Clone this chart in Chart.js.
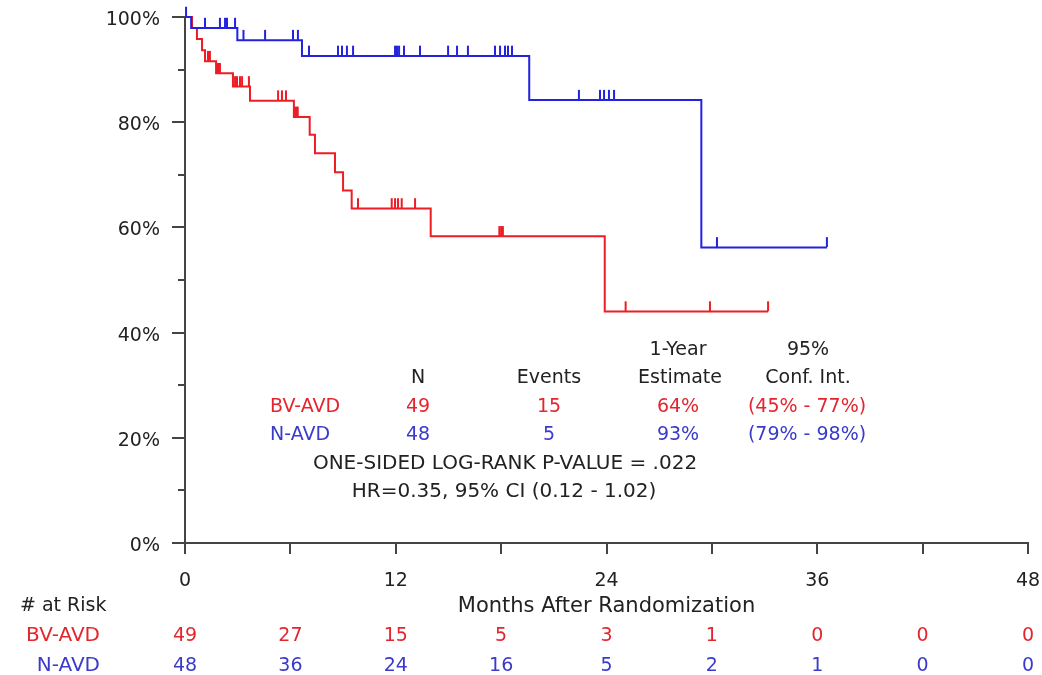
<!DOCTYPE html>
<html>
<head>
<meta charset="utf-8">
<script src="https://cdn.jsdelivr.net/npm/chart.js@4.4.1/dist/chart.umd.min.js"></script>
<style>
  html, body { margin: 0; padding: 0; background: #fff; }
  #wrap { width: 1042px; height: 675px; position: relative; }
</style>
</head>
<body>
<div id="wrap"><canvas id="km"></canvas></div>
<script>
// Kaplan-Meier steps (months, % surviving after the step)
var bvTimes = [0, 0.40, 0.68, 0.97, 1.14, 1.77, 2.73, 3.70, 6.20, 7.10, 7.40, 8.54, 9.00, 9.49, 13.99, 23.90, 33.20];
var bvSurv  = [100, 97.9, 95.8, 93.7, 91.6, 89.3, 86.8, 84.1, 81.0, 77.6, 74.1, 70.5, 67.0, 63.6, 58.3, 44.0, 44.0];
var bvCensor = [1.31, 1.42, 1.88, 1.99, 2.85, 2.96, 3.13, 3.25, 3.64, 5.30, 5.52, 5.75, 6.28, 6.36, 6.42,
                9.85, 11.77, 11.96, 12.13, 12.34, 13.10, 17.90, 18.00, 18.10, 25.09, 29.89, 33.20];

var nTimes = [0, 0.35, 2.98, 6.66, 19.60, 29.40, 36.55];
var nSurv  = [100, 97.9, 95.6, 92.6, 84.2, 56.2, 56.2];
var nCensor = [0.06, 1.14, 1.99, 2.28, 2.39, 2.85, 3.33, 4.56, 6.15, 6.43,
               7.06, 8.71, 8.94, 9.22, 9.57, 11.96, 12.07, 12.19, 12.47, 13.38, 14.98, 15.49, 16.11,
               17.65, 17.94, 18.22, 18.39, 18.62, 22.43, 23.63, 23.86, 24.14, 24.43, 30.29, 36.55];

// number at risk
var riskMonths = [0, 6, 12, 18, 24, 30, 36, 42, 48];
var bvRisk = [49, 27, 15, 5, 3, 1, 0, 0, 0];
var nRisk  = [48, 36, 24, 16, 5, 2, 1, 0, 0];

var yLabels = [0, 20, 40, 60, 80, 100];
var xLabels = [0, 12, 24, 36, 48];

var RED = '#ee1c24', BLUE = '#2222e0';
var RED_TXT = '#e3262e', BLUE_TXT = '#3a3acb';
var FONT = '"DejaVu Sans", Verdana, sans-serif';

function levelAt(times, surv, t) {
  var v = surv[0];
  for (var i = 0; i < times.length; i++) { if (times[i] <= t) v = surv[i]; }
  return v;
}
function steps(times, surv) {
  return times.map(function (t, i) { return {x: t, y: surv[i]}; });
}
function marks(times, surv, cens) {
  return cens.map(function (t) { return {x: t, y: levelAt(times, surv, t) + 1.0}; });
}

var decor = {
  id: 'decor',
  afterDraw: function (chart) {
    var ctx = chart.ctx, xs = chart.scales.x, ys = chart.scales.y;
    ctx.save();
    ctx.strokeStyle = '#444';
    ctx.lineWidth = 2;
    for (var v = 0; v <= 100; v += 10) {
      var py = Math.round(ys.getPixelForValue(v));
      var len = v % 20 === 0 ? 13 : 7;
      ctx.beginPath(); ctx.moveTo(xs.left - len, py); ctx.lineTo(xs.left, py); ctx.stroke();
    }
    riskMonths.forEach(function (m) {
      var px = Math.round(xs.getPixelForValue(m));
      ctx.beginPath(); ctx.moveTo(px, ys.bottom); ctx.lineTo(px, ys.bottom + 11); ctx.stroke();
    });

    ctx.textBaseline = 'alphabetic';
    function txt(s, x, y, c, al, size) {
      ctx.font = (size || 19) + 'px ' + FONT;
      ctx.fillStyle = c; ctx.textAlign = al || 'center'; ctx.fillText(s, x, y);
    }
    var K = '#222';

    // axis labels
    yLabels.forEach(function (v) { txt(v + '%', xs.left - 25, ys.getPixelForValue(v) + 8, K, 'right'); });
    xLabels.forEach(function (m) { txt(String(m), xs.getPixelForValue(m), 586, K); });
    txt('Months After Randomization', (xs.left + xs.right) / 2, 612, K, 'center', 21);

    // summary table
    txt('1-Year', 678, 355, K); txt('95%', 808, 355, K);
    txt('N', 418, 383, K); txt('Events', 549, 383, K); txt('Estimate', 680, 383, K); txt('Conf. Int.', 808, 383, K);
    txt('BV-AVD', 270, 412, RED_TXT, 'left'); txt('49', 418, 412, RED_TXT); txt('15', 549, 412, RED_TXT);
    txt('64%', 678, 412, RED_TXT); txt('(45% - 77%)', 807, 412, RED_TXT);
    txt('N-AVD', 270, 440, BLUE_TXT, 'left'); txt('48', 418, 440, BLUE_TXT); txt('5', 549, 440, BLUE_TXT);
    txt('93%', 678, 440, BLUE_TXT); txt('(79% - 98%)', 807, 440, BLUE_TXT);
    txt('ONE-SIDED LOG-RANK P-VALUE = .022', 505, 469, K, 'center', 20);
    txt('HR=0.35, 95% CI (0.12 - 1.02)', 504, 497, K, 'center', 20);

    // number at risk
    txt('# at Risk', 20, 611, K, 'left');
    txt('BV-AVD', 100, 641, RED_TXT, 'right', 20);
    txt('N-AVD', 100, 671, BLUE_TXT, 'right', 20);
    riskMonths.forEach(function (m, i) {
      var px = xs.getPixelForValue(m);
      txt(String(bvRisk[i]), px, 641, RED_TXT);
      txt(String(nRisk[i]), px, 671, BLUE_TXT);
    });
    ctx.restore();
  }
};

new Chart(document.getElementById('km').getContext('2d'), {
  type: 'line',
  data: {
    datasets: [
      {label: 'N-AVD', data: steps(nTimes, nSurv), stepped: true, borderColor: BLUE, borderWidth: 2,
       pointRadius: 0, fill: false, clip: false},
      {label: 'BV-AVD', data: steps(bvTimes, bvSurv), stepped: true, borderColor: RED, borderWidth: 2,
       pointRadius: 0, fill: false, clip: false},
      {type: 'scatter', label: 'N-AVD censored', data: marks(nTimes, nSurv, nCensor), showLine: false,
       pointStyle: 'line', rotation: 90, radius: 5, borderColor: BLUE, borderWidth: 2, clip: false},
      {type: 'scatter', label: 'BV-AVD censored', data: marks(bvTimes, bvSurv, bvCensor), showLine: false,
       pointStyle: 'line', rotation: 90, radius: 5, borderColor: RED, borderWidth: 2, clip: false}
    ]
  },
  options: {
    responsive: true,
    maintainAspectRatio: false,
    animation: false,
    layout: {padding: {top: 17, right: 14, left: 0, bottom: 0}},
    plugins: {legend: {display: false}, tooltip: {enabled: false}},
    scales: {
      x: {
        type: 'linear', min: 0, max: 48,
        grid: {display: false, drawTicks: false},
        border: {display: true, color: '#444', width: 2},
        ticks: {display: false, stepSize: 6},
        afterFit: function (s) { s.height = 132; }
      },
      y: {
        min: 0, max: 100,
        grid: {display: false, drawTicks: false},
        border: {display: true, color: '#444', width: 2},
        ticks: {display: false, stepSize: 10},
        afterFit: function (s) { s.width = 185; }
      }
    }
  },
  plugins: [decor]
});
</script>
</body>
</html>
